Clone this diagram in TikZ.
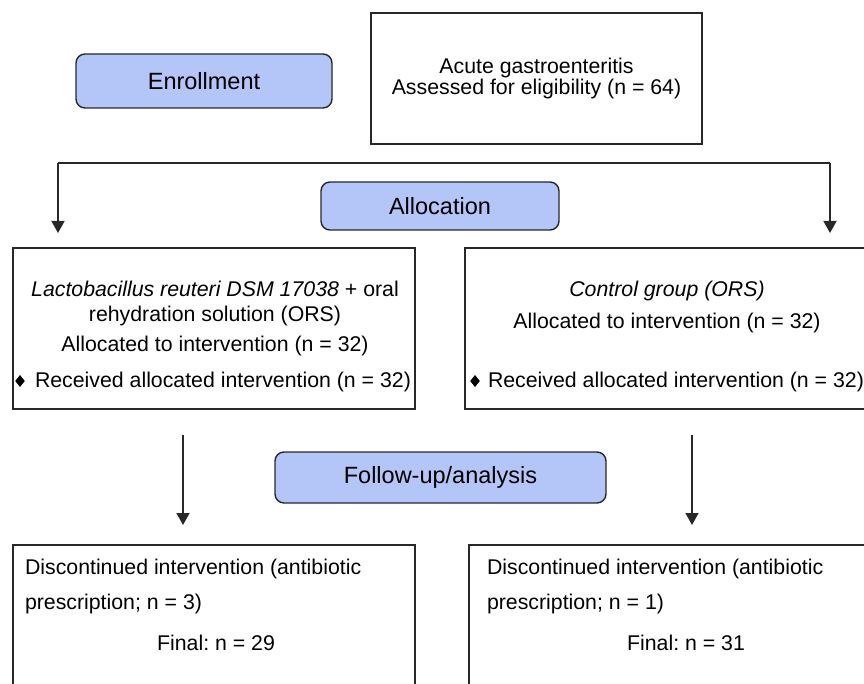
\documentclass[tikz,border=0pt]{standalone}
\usepackage{fontspec}
\setmainfont{Liberation Sans}
\usetikzlibrary{arrows.meta,shapes.geometric}
\definecolor{stagefill}{RGB}{180,198,247}
\definecolor{linecol}{RGB}{40,40,40}
\frenchspacing
\begin{document}
\begin{tikzpicture}[x=1pt,y=-1pt,
  every node/.style={inner sep=0pt, outer sep=0pt},
  frame/.style={draw=linecol, line width=1.4pt, rectangle},
  stage/.style={draw=linecol, line width=1.4pt, fill=stagefill, rounded corners=9pt, font=\fontsize{23.5}{28}\selectfont},
  body/.style={font=\fontsize{21.3}{25}\selectfont, anchor=base},
  bodyl/.style={font=\fontsize{21.3}{25}\selectfont, anchor=base west},
  conn/.style={draw=linecol, line width=1.4pt},
  arr/.style={conn, -{Triangle[width=13pt,length=12pt]}},
  bulletmark/.style={diamond, fill=black, minimum width=9.5pt, minimum height=12pt}]
\useasboundingbox (0,0) rectangle (864,684);

% stage labels
\node[stage, minimum width=256pt, minimum height=54pt] (enroll) at (204,81) {Enrollment};
\node[stage, minimum width=238pt, minimum height=48pt] (alloc) at (440,206) {Allocation};
\node[stage, minimum width=331pt, minimum height=51pt] (follow) at (440.5,477.5) {Follow-up/analysis};

% eligibility
\node[frame, minimum width=331pt, minimum height=131pt] (elig) at (536.5,78.5) {};
\node[body] (e1) at (536.5,74) {Acute gastroenteritis};
\node[body] (e2) at (536.5,95) {Assessed for eligibility (n = 64)};

% split connector
\coordinate (sL) at (58,163);
\coordinate (sR) at (830,163);
\coordinate (tL) at (58,233);
\coordinate (tR) at (830,233);
\draw[conn] (sL) -- (sR);
\draw[arr] (sL) -- (tL);
\draw[arr] (sR) -- (tR);

% arm boxes
\node[frame, minimum width=402pt, minimum height=161pt] (armA) at (214,328.5) {};
\node[frame, minimum width=404pt, minimum height=161pt] (armB) at (667,328.5) {};

\node[body] (a1) at (215,297) {\textit{Lactobacillus reuteri DSM 17038} + oral};
\node[body] (a2) at (215,322) {rehydration solution (ORS)};
\node[body] (a3) at (215,351) {Allocated to intervention (n = 32)};
\node[bulletmark] (da) at (20,381) {};
\node[bodyl] (a4) at (35,387) {Received allocated intervention (n = 32)};

\node[body] (b1) at (667,297) {\textit{Control group (ORS)}};
\node[body] (b2) at (667,328) {Allocated to intervention (n = 32)};
\node[bulletmark] (db) at (475,381) {};
\node[bodyl] (b4) at (488,387) {Received allocated intervention (n = 32)};

% arrows to follow-up
\coordinate (uA) at (183,435);
\coordinate (vA) at (183,525);
\coordinate (uB) at (692,435);
\coordinate (vB) at (692,525);
\draw[arr] (uA) -- (vA);
\draw[arr] (uB) -- (vB);

% final boxes
\node[frame, minimum width=402pt, minimum height=160pt] (finA) at (214,625) {};
\node[frame, minimum width=411pt, minimum height=160pt] (finB) at (674.5,625) {};

\node[bodyl] (f1) at (25,574) {Discontinued intervention (antibiotic};
\node[bodyl] (f2) at (25,609) {prescription; n = 3)};
\node[body] (f3) at (216,650) {Final: n = 29};

\node[bodyl] (g1) at (487,574) {Discontinued intervention (antibiotic};
\node[bodyl] (g2) at (487,609) {prescription; n = 1)};
\node[body] (g3) at (686,650) {Final: n = 31};
\end{tikzpicture}
\end{document}
